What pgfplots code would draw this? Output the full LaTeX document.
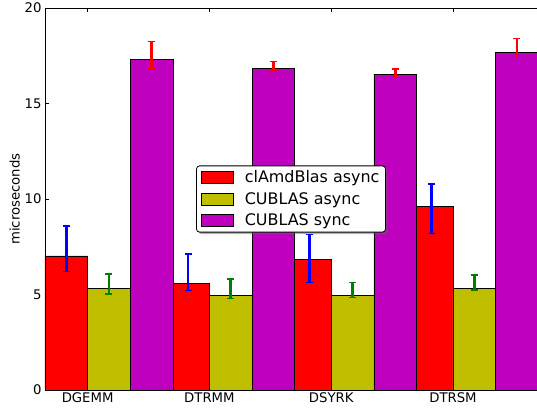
\documentclass[border=0pt]{standalone}
\usepackage{pgfplots}
\pgfplotsset{compat=1.18}
\usepackage{fontspec}
\setmainfont{DejaVu Sans}
\usetikzlibrary{shadows}
\makeatletter
\tikzset{noshadow/.code={\let\tikz@preactions\pgfutil@empty}}
\makeatother
\definecolor{mred}{RGB}{255,0,0}
\definecolor{myel}{RGB}{191,191,0}
\definecolor{mmag}{RGB}{191,0,191}
\definecolor{eblue}{RGB}{0,0,255}
\definecolor{egreen}{RGB}{0,128,0}
\begin{document}
\begin{tikzpicture}[x=1bp,y=1bp]
\begin{axis}[
  at={(0,0)}, anchor=south west,
  scale only axis, width=492bp, height=382bp,
  xmin=0, xmax=4.04, ymin=0, ymax=20,
  xtick={0.35,1.35,2.35,3.35},
  xticklabels={DGEMM,DTRMM,DSYRK,DTRSM},
  ytick={0,5,10,15,20},
  tick align=inside,
  major tick length=4bp,
  tick style={black, line width=0.5bp},
  axis line style={black, line width=0.8bp},
  /pgf/number format/assume math mode=true,
  tick label style={font=\fontsize{13.3}{16}\selectfont},
  xticklabel style={yshift=1bp},
  ylabel={microseconds},
  ylabel style={font=\fontsize{13.3}{16}\selectfont, yshift=-2bp},
  legend cell align=left,
  legend style={at={(0.5,0.5)}, anchor=center,
    font=\fontsize{16}{19}\selectfont,
    rounded corners=3bp, draw=black, line width=0.8bp, fill=white,
    drop shadow={shadow xshift=2bp, shadow yshift=-2bp, fill=black!60},
    inner xsep=4bp, inner ysep=3bp,
    row sep=4bp},
  legend image code/.code={\draw[#1, noshadow, sharp corners, draw=black, line width=0.6bp] (0bp,-6bp) rectangle (32bp,6bp); \path[draw=none, fill=none, noshadow] (0bp,0bp) -- (42bp,0bp);},
]
\addplot[ybar, bar width=0.35, bar shift=0pt, fill=mred, draw=black, line width=0.6bp,
  error bars/.cd, y dir=both, y explicit,
  error bar style={color=eblue, line width=2.8bp},
  error mark options={rotate=90, color=eblue, mark size=3.5bp, line width=1.5bp}]
  coordinates {
  (0.175,7.02) += (0,1.57) -= (0,0.81)
  (1.175,5.58) += (0,1.54) -= (0,0.38)
  (2.175,6.84) += (0,1.30) -= (0,1.20)
  (3.175,9.60) += (0,1.19) -= (0,1.40)
  };
\addlegendentry{clAmdBlas async}
\addplot[ybar, bar width=0.35, bar shift=0pt, fill=myel, draw=black, line width=0.6bp,
  error bars/.cd, y dir=both, y explicit,
  error bar style={color=egreen, line width=2.8bp},
  error mark options={rotate=90, color=egreen, mark size=3.5bp, line width=1.5bp}]
  coordinates {
  (0.525,5.32) += (0,0.75) -= (0,0.29)
  (1.525,4.95) += (0,0.86) -= (0,0.17)
  (2.525,4.95) += (0,0.69) -= (0,0.12)
  (3.525,5.34) += (0,0.68) -= (0,0.10)
  };
\addlegendentry{CUBLAS async}
\addplot[ybar, bar width=0.35, bar shift=0pt, fill=mmag, draw=black, line width=0.6bp,
  error bars/.cd, y dir=both, y explicit,
  error bar style={color=mred, line width=2.8bp},
  error mark options={rotate=90, color=mred, mark size=3.5bp, line width=1.5bp}]
  coordinates {
  (0.875,17.31) += (0,0.93) -= (0,0.50)
  (1.875,16.84) += (0,0.36) -= (0,0.14)
  (2.875,16.54) += (0,0.27) -= (0,0.19)
  (3.875,17.68) += (0,0.73) -= (0,0.27)
  };
\addlegendentry{CUBLAS sync}
\end{axis}
\pgfresetboundingbox
\path[use as bounding box] (-45bp,-21bp) rectangle (492bp,390bp);
\end{tikzpicture}
\end{document}
